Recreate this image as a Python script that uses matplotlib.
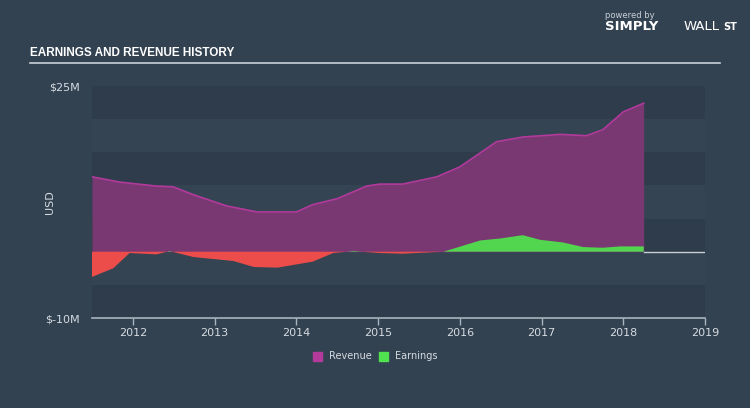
import matplotlib
matplotlib.use("Agg")
import matplotlib.pyplot as plt
import numpy as np

# Data (USD millions), x in fractional years
rev_x = [2011.5, 2011.84, 2012.29, 2012.49, 2012.74, 2013.15, 2013.52, 2014.0, 2014.2,
         2014.5, 2014.86, 2015.02, 2015.3, 2015.72, 2016.0, 2016.45, 2016.77, 2017.23,
         2017.55, 2017.75, 2018.0, 2018.25]
rev_y = [11.3, 10.5, 9.9, 9.8, 8.6, 6.9, 6.0, 6.0, 7.1,
         8.0, 9.9, 10.2, 10.2, 11.3, 12.8, 16.6, 17.3, 17.7,
         17.5, 18.4, 21.1, 22.4]

earn_x = [2011.5, 2011.76, 2011.96, 2012.29, 2012.45, 2012.74, 2013.23, 2013.48, 2013.77,
          2014.2, 2014.45, 2014.7, 2015.02, 2015.3, 2015.8, 2016.25, 2016.5, 2016.77,
          2016.98, 2017.26, 2017.51, 2017.75, 2017.96, 2018.25]
earn_y = [-3.8, -2.5, -0.2, -0.4, 0.1, -0.8, -1.4, -2.3, -2.4,
          -1.5, -0.2, 0.1, -0.2, -0.3, 0.0, 1.7, 2.0, 2.5,
          1.8, 1.4, 0.7, 0.6, 0.8, 0.8]

years = [2012, 2013, 2014, 2015, 2016, 2017, 2018, 2019]
ytick_vals = [25, -10]
ytick_labels = ["$25M", "$-10M"]

BG = "#334251"
TXT = "#d5dbe1"

fig = plt.figure(figsize=(7.5, 4.08), dpi=100)
fig.patch.set_facecolor(BG)
ax = fig.add_axes([92/750, 1-318/408, (705-92)/750, (318-86)/408])
ax.set_facecolor("#334453")
ax.set_xlim(2011.5, 2019.0)
ax.set_ylim(-10, 25)

# bands
for lo in range(-10, 25, 5):
    dark = ((lo + 10) // 5) % 2 == 0
    ax.axhspan(lo, lo + 5, color="#2e3c4b" if dark else "#344453", lw=0, zorder=0)

# revenue
ax.fill_between(rev_x, 0, rev_y, color="#7a3873", lw=0, zorder=2)
ax.plot(rev_x, rev_y, color="#b33a9c", lw=1.2, zorder=3)

# earnings
ex = np.array(earn_x); ey = np.array(earn_y)
ax.fill_between(ex, 0, ey, where=ey >= 0, interpolate=True, color="#52d64f", lw=0, zorder=4)
ax.fill_between(ex, 0, ey, where=ey <= 0, interpolate=True, color="#ec4d4b", lw=0, zorder=4)
ax.axhline(0, color="#c8cfd6", lw=1.0, zorder=5, xmin=(2018.25-2011.5)/7.5)

for s in ax.spines.values():
    s.set_visible(False)
ax.spines["bottom"].set_visible(True)
ax.spines["bottom"].set_color("#aab4be")
ax.spines["bottom"].set_linewidth(1.2)

ax.set_xticks(years)
ax.set_xticklabels([str(y) for y in years])
ax.tick_params(axis="x", colors="#aab4be", labelcolor=TXT, labelsize=8, length=5, width=1, pad=2)
ax.set_yticks(ytick_vals)
ax.set_yticklabels(ytick_labels)
ax.tick_params(axis="y", length=0, labelcolor=TXT, labelsize=8, pad=9)
ax.set_ylabel("USD", color=TXT, fontsize=8)
ax.yaxis.set_label_coords((55-92)/613, 0.5)

# title
fig.text(30/750, 1-53/408, "EARNINGS AND REVENUE HISTORY", color="white", fontsize=8.5,
         fontweight="bold", family=["Liberation Sans Narrow", "Liberation Sans", "DejaVu Sans"],
         va="center", ha="left")
fig.add_artist(plt.Line2D([30/750, 720/750], [1-63/408, 1-63/408], color="#c9d0d8", lw=1.2))

# logo
fig.text(605/750, 1-15/408, "powered by", color="#c9d0d8", fontsize=6, va="center", ha="left")
fig.text(605/750, 1-27/408, "SIMPLY", color="white", fontsize=9.5, fontweight="bold", va="center", ha="left")
fig.text(684/750, 1-27/408, "WALL", color="white", fontsize=9.5, va="center", ha="left")
fig.text(723/750, 1-27/408, "ST", color="white", fontsize=7, fontweight="bold", va="center", ha="left")

# legend
fig.add_artist(plt.Rectangle((313/750, 1-361/408), 9/750, 9/408, color="#b3399b", transform=fig.transFigure))
fig.text(329/750, 1-356/408, "Revenue", color=TXT, fontsize=7, va="center", ha="left")
fig.add_artist(plt.Rectangle((379/750, 1-361/408), 9/750, 9/408, color="#4fe34f", transform=fig.transFigure))
fig.text(395/750, 1-356/408, "Earnings", color=TXT, fontsize=7, va="center", ha="left")

fig.savefig("out.png", dpi=100, facecolor=BG)
